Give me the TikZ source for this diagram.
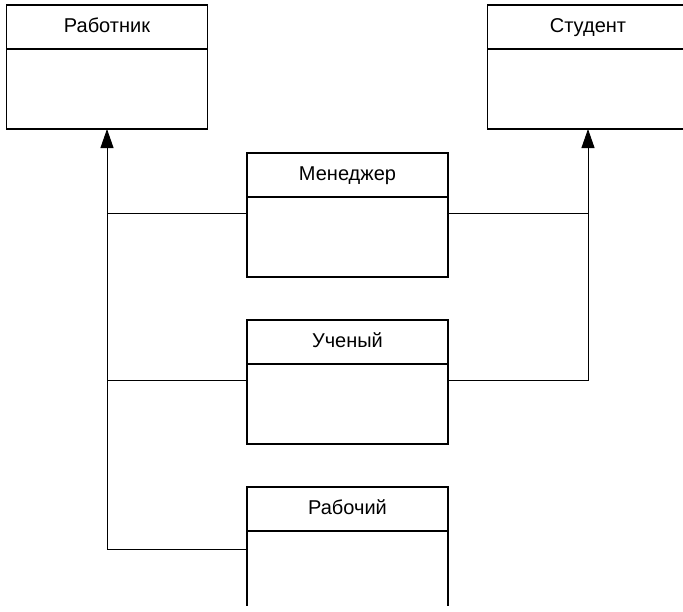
\documentclass[tikz,border=0pt]{standalone}
\usepackage{fontspec}
\setmainfont{Liberation Sans}
\usetikzlibrary{arrows.meta,positioning}

\begin{document}
\begin{tikzpicture}[
  x=1pt,y=-1pt,
  font=\fontsize{20}{24}\selectfont,
  >={Triangle[length=19pt,width=13pt]},
  head/.style={rectangle,draw=black,line width=1.3pt,outer sep=0pt,
               minimum width=201pt,minimum height=44pt,inner sep=0pt,
               text height=14pt,text depth=4pt},
  body/.style={head,minimum height=80pt},
  link/.style={draw=black,line width=0.9pt},
]
\useasboundingbox (0,0) rectangle (683,611);
\clip (0,0) rectangle (683,605);

%% ---------------------------------------------------------------- parents
\node[head] (rabotnikH) at (107,27) {Работник};
\node[body,below=0pt of rabotnikH] (rabotnik) {};
\node[head] (studentH) at (588,27) {Студент};
\node[body,below=0pt of studentH] (student) {};

%% --------------------------------------------------------------- children
\node[head] (menedzherH) at (347.5,175) {Менеджер};
\node[body,below=0pt of menedzherH] (menedzher) {};
\node[head] (uchenyjH) at (347.5,342) {Ученый};
\node[body,below=0pt of uchenyjH] (uchenyj) {};
\node[head] (rabochijH) at (347.5,509) {Рабочий};
\node[body,below=0pt of rabochijH] (rabochij) {};

%% ------------------------------------------------------------ inheritance
\coordinate (menedzherL) at ([yshift=-16pt]menedzherH.south west);
\coordinate (menedzherR) at ([yshift=-16pt]menedzherH.south east);
\coordinate (uchenyjL) at ([yshift=-16pt]uchenyjH.south west);
\coordinate (uchenyjR) at ([yshift=-16pt]uchenyjH.south east);
\coordinate (rabochijL) at ([yshift=-18pt]rabochijH.south west);

\draw[link,->] (rabochijL) -| (rabotnik.south);
\draw[link] (uchenyjL) -- (uchenyjL -| rabotnik.south);
\draw[link] (menedzherL) -- (menedzherL -| rabotnik.south);
\draw[link,->] (uchenyjR) -| (student.south);
\draw[link] (menedzherR) -- (menedzherR -| student.south);

\end{tikzpicture}
\end{document}
